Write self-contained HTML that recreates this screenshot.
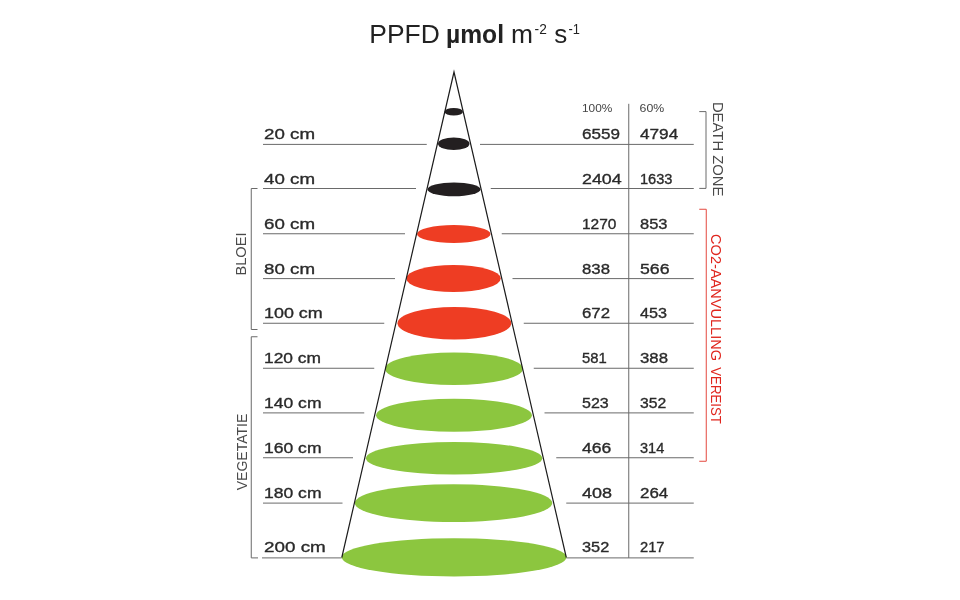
<!DOCTYPE html>
<html><head><meta charset="utf-8"><title>PPFD</title>
<style>
html,body{margin:0;padding:0;background:#fff;}
body{width:960px;height:600px;overflow:hidden;font-family:"Liberation Sans",sans-serif;}
svg{display:block;filter:blur(0.45px);font-family:"Liberation Sans",sans-serif;}
.n{font-size:15.4px;fill:#2a2a2a;stroke:#2a2a2a;stroke-width:0.35px;}
.h{font-size:10px;fill:#444;}
.r{font-size:14px;fill:#4a4a4a;}
.t{font-size:26px;fill:#222;}
.ts{font-size:15.3px;fill:#222;}
</style></head><body>
<svg width="960" height="600" viewBox="0 0 960 600">
<rect width="960" height="600" fill="#fff"/>

<text class="t" x="369.3" y="42.5" textLength="70.5" lengthAdjust="spacingAndGlyphs">PPFD</text>
<text class="t" x="446" y="42.5" font-weight="bold" textLength="58" lengthAdjust="spacingAndGlyphs">µmol</text>
<text class="t" x="511" y="42.5" textLength="22" lengthAdjust="spacingAndGlyphs">m</text>
<text class="ts" x="534.6" y="34.2" textLength="12.2" lengthAdjust="spacingAndGlyphs">-2</text>
<text class="t" x="554.2" y="42.5" textLength="13" lengthAdjust="spacingAndGlyphs">s</text>
<text class="ts" x="568.5" y="34.2" textLength="11.4" lengthAdjust="spacingAndGlyphs">-1</text>
<g stroke="#6a6a6a" stroke-width="1" fill="none">
<path d="M263 144.4 H426.75 M480 144.4 H693.75"/>
<path d="M263 188.5 H416 M490.75 188.5 H693.75"/>
<path d="M263 233.75 H405 M501.75 233.75 H693.75"/>
<path d="M263 278.6 H395 M512.5 278.6 H693.75"/>
<path d="M263 323.25 H384.25 M523.75 323.25 H693.75"/>
<path d="M263 368.25 H374.25 M533.75 368.25 H693.75"/>
<path d="M263 412.9 H364.25 M544.5 412.9 H693.75"/>
<path d="M263 457.75 H353 M556.25 457.75 H693.75"/>
<path d="M263 503.1 H342.5 M566.25 503.1 H693.75"/>
<path d="M262 557.9 H341.75 M566.25 557.9 H693.75"/>
<path d="M628.75 103.8 V557.9"/>
<path d="M257.5 188.5 H251.25 V329.5 H257.5"/>
<path d="M257.5 336.75 H251.25 V557.9 H258"/>
<path d="M699.25 111.6 H706 V188.4 H699.25"/>
</g>
<path d="M699.25 209.25 H706.25 V461.25 H699.25" stroke="#e4483f" stroke-width="1" fill="none"/>
<ellipse cx="453.75" cy="111.75" rx="9.25" ry="3.75" fill="#231f20"/>
<ellipse cx="453.75" cy="143.75" rx="15.75" ry="6.25" fill="#231f20"/>
<ellipse cx="454" cy="189.4" rx="26.5" ry="6.9" fill="#231f20"/>
<ellipse cx="453.75" cy="234" rx="36.75" ry="9" fill="#ee3d23"/>
<ellipse cx="453.5" cy="278.5" rx="47.25" ry="13.5" fill="#ee3d23"/>
<ellipse cx="454.4" cy="323.25" rx="56.9" ry="16.25" fill="#ee3d23"/>
<ellipse cx="454" cy="368.75" rx="69" ry="16.25" fill="#8cc63f"/>
<ellipse cx="454" cy="415.25" rx="77.9" ry="16.5" fill="#8cc63f"/>
<ellipse cx="454.1" cy="458.2" rx="88.2" ry="16.3" fill="#8cc63f"/>
<ellipse cx="453.5" cy="503.1" rx="98.8" ry="18.9" fill="#8cc63f"/>
<ellipse cx="454.1" cy="557.3" rx="112.4" ry="19.1" fill="#8cc63f"/>
<path d="M341.8 557.5 L454 72 L566.3 557.5" stroke="#1c1c1c" stroke-width="1.2" stroke-miterlimit="12" fill="none"/>
<text class="n" x="264" y="139.40" textLength="51" lengthAdjust="spacingAndGlyphs">20 cm</text>
<text class="n" x="582" y="139.40" textLength="38" lengthAdjust="spacingAndGlyphs">6559</text>
<text class="n" x="640" y="139.40" textLength="38.25" lengthAdjust="spacingAndGlyphs">4794</text>
<text class="n" x="264" y="183.50" textLength="51" lengthAdjust="spacingAndGlyphs">40 cm</text>
<text class="n" x="582" y="183.50" textLength="39.75" lengthAdjust="spacingAndGlyphs">2404</text>
<text class="n" x="640" y="183.50" textLength="32.5" lengthAdjust="spacingAndGlyphs">1633</text>
<text class="n" x="264" y="228.75" textLength="51" lengthAdjust="spacingAndGlyphs">60 cm</text>
<text class="n" x="582" y="228.75" textLength="34.5" lengthAdjust="spacingAndGlyphs">1270</text>
<text class="n" x="640" y="228.75" textLength="27.5" lengthAdjust="spacingAndGlyphs">853</text>
<text class="n" x="264" y="273.60" textLength="51" lengthAdjust="spacingAndGlyphs">80 cm</text>
<text class="n" x="582" y="273.60" textLength="28" lengthAdjust="spacingAndGlyphs">838</text>
<text class="n" x="640" y="273.60" textLength="29.5" lengthAdjust="spacingAndGlyphs">566</text>
<text class="n" x="264" y="318.25" textLength="58.75" lengthAdjust="spacingAndGlyphs">100 cm</text>
<text class="n" x="582" y="318.25" textLength="28" lengthAdjust="spacingAndGlyphs">672</text>
<text class="n" x="640" y="318.25" textLength="27" lengthAdjust="spacingAndGlyphs">453</text>
<text class="n" x="264" y="363.25" textLength="57" lengthAdjust="spacingAndGlyphs">120 cm</text>
<text class="n" x="582" y="363.25" textLength="24.75" lengthAdjust="spacingAndGlyphs">581</text>
<text class="n" x="640" y="363.25" textLength="28" lengthAdjust="spacingAndGlyphs">388</text>
<text class="n" x="264" y="407.90" textLength="57.5" lengthAdjust="spacingAndGlyphs">140 cm</text>
<text class="n" x="582" y="407.90" textLength="26.75" lengthAdjust="spacingAndGlyphs">523</text>
<text class="n" x="640" y="407.90" textLength="26.25" lengthAdjust="spacingAndGlyphs">352</text>
<text class="n" x="264" y="452.75" textLength="57.5" lengthAdjust="spacingAndGlyphs">160 cm</text>
<text class="n" x="582" y="452.75" textLength="29.25" lengthAdjust="spacingAndGlyphs">466</text>
<text class="n" x="640" y="452.75" textLength="24.25" lengthAdjust="spacingAndGlyphs">314</text>
<text class="n" x="264" y="498.10" textLength="57.5" lengthAdjust="spacingAndGlyphs">180 cm</text>
<text class="n" x="582" y="498.10" textLength="30" lengthAdjust="spacingAndGlyphs">408</text>
<text class="n" x="640" y="498.10" textLength="28.25" lengthAdjust="spacingAndGlyphs">264</text>
<text class="n" x="264" y="552.20" textLength="61.75" lengthAdjust="spacingAndGlyphs">200 cm</text>
<text class="n" x="582" y="552.20" textLength="27.25" lengthAdjust="spacingAndGlyphs">352</text>
<text class="n" x="640" y="552.20" textLength="24.5" lengthAdjust="spacingAndGlyphs">217</text>
<text class="h" x="582" y="112" textLength="30.3" lengthAdjust="spacingAndGlyphs">100%</text>
<text class="h" x="639.6" y="112" textLength="24.6" lengthAdjust="spacingAndGlyphs">60%</text>
<text class="r" transform="translate(246.3 275.5) rotate(-90)" textLength="43" lengthAdjust="spacingAndGlyphs">BLOEI</text>
<text class="r" style="font-size:15px" transform="translate(246.8 490.3) rotate(-90)" textLength="76.6" lengthAdjust="spacingAndGlyphs">VEGETATIE</text>
<text class="r" style="font-size:14.6px" transform="translate(713.4 101.9) rotate(90)" textLength="94.6" lengthAdjust="spacingAndGlyphs">DEATH ZONE</text>
<text class="r" style="fill:#e0261e;font-size:14.6px" transform="translate(710.6 234.1) rotate(90)" textLength="127" lengthAdjust="spacingAndGlyphs">CO2-AANVULLING</text>
<text class="r" style="fill:#e0261e;font-size:14.6px" transform="translate(710.6 367.3) rotate(90)" textLength="56.6" lengthAdjust="spacingAndGlyphs">VEREIST</text>
</svg></body></html>
